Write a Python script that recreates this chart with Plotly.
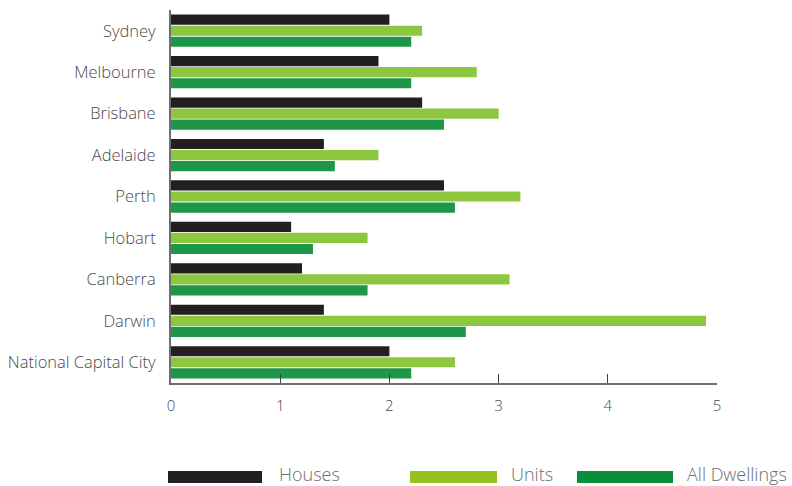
import plotly.graph_objects as go

cities = ["Sydney", "Melbourne", "Brisbane", "Adelaide", "Perth", "Hobart",
          "Canberra", "Darwin", "National Capital City"]
houses = [2.0, 1.9, 2.3, 1.4, 2.5, 1.1, 1.2, 1.4, 2.0]
units = [2.3, 2.8, 3.0, 1.9, 3.2, 1.8, 3.1, 4.9, 2.6]
all_dwellings = [2.2, 2.2, 2.5, 1.5, 2.6, 1.3, 1.8, 2.7, 2.2]

series_names = ["Houses", "Units", "All Dwellings"]
series_values = [houses, units, all_dwellings]
bar_colors = ["#231F20", "#8DC63F", "#1E9648"]
legend_colors = ["#231F20", "#96C11F", "#0B8E3A"]
x_ticks = [0, 1, 2, 3, 4, 5]

FONT = "Open Sans"

fig = go.Figure()
for name, vals, col in zip(series_names, series_values, bar_colors):
    fig.add_trace(go.Bar(y=cities, x=vals, name=name, orientation="h",
                         marker=dict(color=col, line=dict(width=0)),
                         showlegend=False))

# custom legend (wide swatches)
leg_swatch_x = [(168, 262), (410, 497), (577, 673)]
leg_text_x = [277, 509, 685]
for (x0, x1), tx, name, col in zip(leg_swatch_x, leg_text_x, series_names, legend_colors):
    fig.add_shape(type="rect", xref="paper", yref="paper",
                  x0=(x0 - 171) / 546, x1=(x1 - 171) / 546,
                  y0=-(471 + 12 - 383) / 373, y1=-(471 - 383) / 373,
                  fillcolor=col, line=dict(width=0))
    fig.add_annotation(text=name, xref="paper", yref="paper",
                       x=(tx - 171) / 546, y=-(474 - 383) / 373,
                       xanchor="left", yanchor="middle", showarrow=False,
                       font=dict(family=FONT, size=18, color="#6d6e71", weight=300))

fig.update_layout(
    width=792, height=486,
    margin=dict(l=171, r=75, t=10, b=103, autoexpand=False),
    paper_bgcolor="white", plot_bgcolor="white",
    barmode="group", bargap=0.2, bargroupgap=0.08,
    font=dict(family=FONT, size=15, color="#4a4a4c"),
    xaxis=dict(range=[0, 5], tickvals=x_ticks, showgrid=False, zeroline=False,
               automargin=False,
               showline=True, linecolor="#6d6e71", linewidth=1.5,
               ticks="inside", ticklen=9, tickcolor="#414042", tickwidth=1,
               ticklabelstandoff=8,
               tickfont=dict(family=FONT, size=15, color="#4a4a4c", weight=300)),
    yaxis=dict(autorange="reversed", showgrid=False, zeroline=False,
               automargin=False,
               showline=True, linecolor="#6d6e71", linewidth=2,
               ticks="", ticklabelstandoff=10,
               tickfont=dict(family=FONT, size=16.5, color="#4a4a4c", weight=300)),
)

fig.write_html("out.html")
